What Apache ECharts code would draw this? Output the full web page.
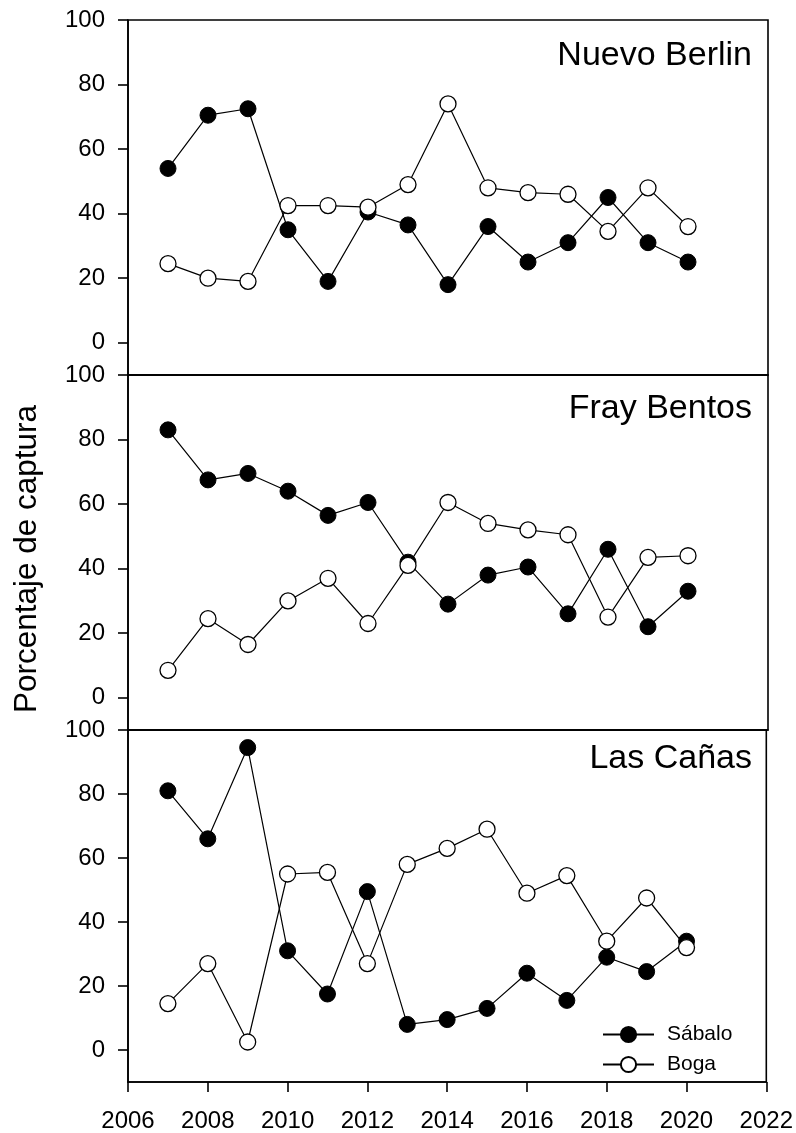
<!DOCTYPE html>
<html>
<head>
<meta charset="utf-8">
<script src="https://cdn.jsdelivr.net/npm/echarts@6/dist/echarts.min.js"></script>
<style>
  html, body { margin: 0; padding: 0; background: #fff; }
  #chart { width: 796px; height: 1133px; }
</style>
</head>
<body>
<div id="chart"></div>
<script>
// Sampling years
const years = [2007, 2008, 2009, 2010, 2011, 2012, 2013, 2014, 2015, 2016, 2017, 2018, 2019, 2020];

// Catch share (%) per site
const sabaloNuevoBerlin = [54, 70.5, 72.5, 35, 19, 40.5, 36.5, 18, 36, 25, 31, 45, 31, 25];
const bogaNuevoBerlin   = [24.5, 20, 19, 42.5, 42.5, 42, 49, 74, 48, 46.5, 46, 34.5, 48, 36];

const sabaloFrayBentos  = [83, 67.5, 69.5, 64, 56.5, 60.5, 42, 29, 38, 40.5, 26, 46, 22, 33];
const bogaFrayBentos    = [8.5, 24.5, 16.5, 30, 37, 23, 41, 60.5, 54, 52, 50.5, 25, 43.5, 44];

const sabaloLasCanas    = [81, 66, 94.5, 31, 17.5, 49.5, 8, 9.5, 13, 24, 15.5, 29, 24.5, 34];
const bogaLasCanas      = [14.5, 27, 2.5, 55, 55.5, 27, 58, 63, 69, 49, 54.5, 34, 47.5, 32];

const siteNames = ['Nuevo Berlin', 'Fray Bentos', 'Las Cañas'];
const yTitle = 'Porcentaje de captura';
const yTickValues = [0, 20, 40, 60, 80, 100];
const xMin = 2006, xMax = 2022, xStep = 2;
const yMin = -10, yMax = 100;

const FONT = '"Liberation Sans", Arial, Helvetica, sans-serif';

const sites = [
  { name: siteNames[0], sabalo: sabaloNuevoBerlin, boga: bogaNuevoBerlin },
  { name: siteNames[1], sabalo: sabaloFrayBentos,  boga: bogaFrayBentos },
  { name: siteNames[2], sabalo: sabaloLasCanas,    boga: bogaLasCanas }
];

// Panel layout (pixels)
const panelLayout = [
  { top: 20,  height: 355 },
  { top: 375, height: 355 },
  { top: 730, height: 354 }
];
const titleCapCenter = [56, 408.5, 758.5];

const pairs = vals => years.map((y, i) => [y, vals[i]]);

const grids = panelLayout.map(p => ({
  left: 128, width: 640, top: p.top, height: p.height,
  show: true, borderColor: '#000', borderWidth: 1.6, backgroundColor: 'transparent'
}));

const xAxes = panelLayout.map((p, i) => {
  const last = i === panelLayout.length - 1;
  return {
    type: 'value', gridIndex: i, min: xMin, max: xMax, interval: xStep,
    axisLine: { show: true, onZero: false, lineStyle: { color: '#000', width: 1.6 } },
    axisTick: { show: last, inside: false, length: 10, lineStyle: { color: '#000', width: 1.6 } },
    axisLabel: {
      show: last, margin: 27, color: '#000', fontFamily: FONT, fontSize: 24,
      formatter: v => String(v)
    },
    splitLine: { show: false }
  };
});

const yAxes = panelLayout.map((p, i) => ({
  type: 'value', gridIndex: i, min: yMin, max: yMax,
  axisLine: { show: true, onZero: false, lineStyle: { color: '#000', width: 1.6 } },
  axisTick: { show: true, inside: false, length: 10, customValues: yTickValues,
              lineStyle: { color: '#000', width: 1.6 } },
  axisLabel: { show: true, margin: 23, color: '#000', fontFamily: FONT, fontSize: 24,
               customValues: yTickValues },
  splitLine: { show: false }
}));

const series = [];
sites.forEach((s, i) => {
  series.push({
    name: 'Sábalo', type: 'line', xAxisIndex: i, yAxisIndex: i,
    data: pairs(s.sabalo), symbol: 'circle', symbolSize: 16,
    lineStyle: { color: '#000', width: 1.2 },
    itemStyle: { color: '#000', borderColor: '#000', borderWidth: 1 },
    emphasis: { disabled: true }, z: 2
  });
});
sites.forEach((s, i) => {
  series.push({
    name: 'Boga', type: 'line', xAxisIndex: i, yAxisIndex: i,
    data: pairs(s.boga), symbol: 'circle', symbolSize: 16,
    lineStyle: { color: '#000', width: 1.2 },
    itemStyle: { color: '#fff', borderColor: '#000', borderWidth: 1.3 },
    emphasis: { disabled: true }, z: 3
  });
});

// Site names in the upper right of each panel, plus the shared y-axis title
const textElements = sites.map((s, i) => ({
  type: 'text', z: 10,
  style: {
    text: s.name, x: 752, y: titleCapCenter[i],
    textAlign: 'right', textVerticalAlign: 'middle',
    font: '34px ' + FONT, fill: '#000'
  }
}));
textElements.push({
  type: 'text', z: 10, x: 27, y: 559, rotation: Math.PI / 2,
  style: {
    text: yTitle, x: 0, y: 0,
    textAlign: 'center', textVerticalAlign: 'middle',
    font: '31.5px ' + FONT, fill: '#000'
  }
});

const chart = echarts.init(document.getElementById('chart'), null, { renderer: 'canvas' });
chart.setOption({
  animation: false,
  backgroundColor: '#fff',
  grid: grids,
  xAxis: xAxes,
  yAxis: yAxes,
  legend: {
    data: ['Sábalo', 'Boga'],
    orient: 'vertical', left: 602, top: 1024, padding: 0,
    itemWidth: 51, itemHeight: 19, itemGap: 9,
    textStyle: { color: '#000', fontFamily: FONT, fontSize: 21, padding: [0, 0, 0, 8] },
    selectedMode: false
  },
  graphic: textElements,
  series: series
});
</script>
</body>
</html>
